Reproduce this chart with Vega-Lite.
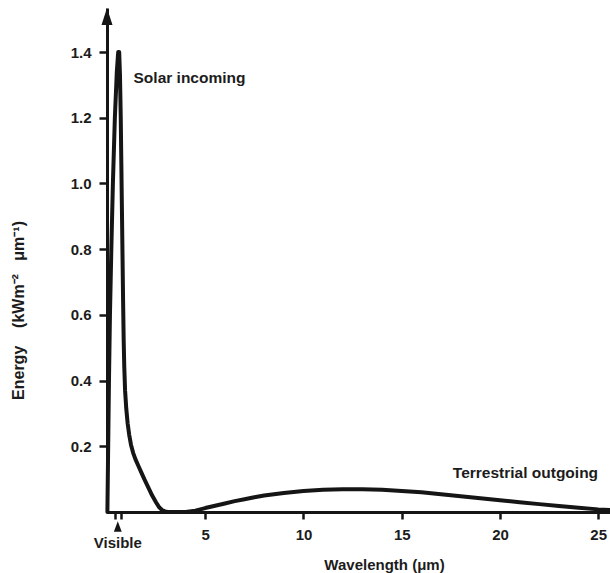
{
  "$schema": "https://vega.github.io/schema/vega-lite/v6.json",
  "autosize": {"type": "none"},
  "width": 503,
  "height": 504,
  "padding": {"left": 107, "top": 8, "right": 0, "bottom": 61},
  "background": "white",
  "config": {
    "view": {"stroke": null},
    "font": "Liberation Sans",
    "axis": {
      "domainColor": "#151515",
      "domainWidth": 3,
      "tickColor": "#151515",
      "tickWidth": 2.5,
      "tickSize": 7,
      "labelFont": "Liberation Sans",
      "labelFontSize": 15,
      "labelFontWeight": "bold",
      "labelColor": "#1c1c1c",
      "titleFont": "Liberation Sans",
      "titleFontSize": 15,
      "titleFontWeight": "bold",
      "titleColor": "#1c1c1c",
      "grid": false,
      "labelFlush": false,
      "labelOverlap": false
    }
  },
  "datasets": {
    "curve": [
      {"x": 0.02, "y": 0},
      {"x": 0.06, "y": 0.2},
      {"x": 0.1, "y": 0.4},
      {"x": 0.15, "y": 0.6},
      {"x": 0.22, "y": 0.8},
      {"x": 0.3, "y": 1.0},
      {"x": 0.4, "y": 1.2},
      {"x": 0.5, "y": 1.34},
      {"x": 0.57, "y": 1.4},
      {"x": 0.62, "y": 1.4},
      {"x": 0.66, "y": 1.33},
      {"x": 0.7, "y": 1.2},
      {"x": 0.73, "y": 1.06},
      {"x": 0.76, "y": 0.92},
      {"x": 0.79, "y": 0.78},
      {"x": 0.82, "y": 0.64},
      {"x": 0.85, "y": 0.52},
      {"x": 0.88, "y": 0.44},
      {"x": 0.92, "y": 0.37},
      {"x": 0.98, "y": 0.315},
      {"x": 1.05, "y": 0.27},
      {"x": 1.13, "y": 0.235},
      {"x": 1.22, "y": 0.205},
      {"x": 1.33, "y": 0.18},
      {"x": 1.45, "y": 0.16},
      {"x": 1.6, "y": 0.14},
      {"x": 1.75, "y": 0.12},
      {"x": 1.9, "y": 0.1},
      {"x": 2.1, "y": 0.075},
      {"x": 2.3, "y": 0.05},
      {"x": 2.5, "y": 0.029},
      {"x": 2.65, "y": 0.015},
      {"x": 2.8, "y": 0.006},
      {"x": 2.95, "y": 0.002},
      {"x": 3.1, "y": 0},
      {"x": 4.0, "y": 0},
      {"x": 4.5, "y": 0.004},
      {"x": 5, "y": 0.012},
      {"x": 5.5, "y": 0.019},
      {"x": 6, "y": 0.026},
      {"x": 6.5, "y": 0.033},
      {"x": 7, "y": 0.039},
      {"x": 7.5, "y": 0.045},
      {"x": 8, "y": 0.05},
      {"x": 9, "y": 0.058},
      {"x": 10, "y": 0.064},
      {"x": 11, "y": 0.068},
      {"x": 12, "y": 0.0695},
      {"x": 13, "y": 0.0695},
      {"x": 14, "y": 0.068},
      {"x": 15, "y": 0.064},
      {"x": 16, "y": 0.06},
      {"x": 17, "y": 0.054},
      {"x": 18, "y": 0.048},
      {"x": 19, "y": 0.042},
      {"x": 20, "y": 0.036},
      {"x": 21, "y": 0.03},
      {"x": 22, "y": 0.024},
      {"x": 23, "y": 0.018},
      {"x": 24, "y": 0.013},
      {"x": 25, "y": 0.008},
      {"x": 25.6, "y": 0.006}
    ],
    "axisArrow": [{"x": 0, "y": 1.508}],
    "visibleMarker": [{"x": 0.55, "y": -0.044}],
    "labels": [
      {"x": 1.35, "y": 1.321, "text": "Solar incoming"},
      {"x": 17.6, "y": 0.119, "text": "Terrestrial outgoing"}
    ],
    "visibleLabel": [{"x": 0.55, "y": -0.094, "text": "Visible"}]
  },
  "encoding": {
    "x": {
      "field": "x",
      "type": "quantitative",
      "scale": {"domain": [0, 25.6], "nice": false, "zero": false},
      "axis": {
        "values": [0.4, 0.7, 5, 10, 15, 20, 25],
        "labelExpr": "datum.value < 1 ? '' : format(datum.value, 'd')",
        "labelPadding": 8,
        "title": "Wavelength (μm)",
        "titleX": 277,
        "titleY": 52,
        "titleAlign": "center",
        "titleBaseline": "middle"
      }
    },
    "y": {
      "field": "y",
      "type": "quantitative",
      "scale": {"domain": [0, 1.534], "nice": false},
      "axis": {
        "values": [0.2, 0.4, 0.6, 0.8, 1.0, 1.2, 1.4],
        "format": ".1f",
        "tickSize": 8,
        "labelPadding": 8,
        "title": "Energy\u00a0\u00a0\u00a0\u00a0(kWm\u207b\u00b2\u00a0\u00a0\u00a0\u03bcm\u207b\u00b9)",
        "titleAngle": -90,
        "titleX": -89,
        "titleY": 302,
        "titleAlign": "center",
        "titleBaseline": "middle",
        "titleFontSize": 16
      }
    }
  },
  "layer": [
    {
      "data": {"name": "curve"},
      "mark": {
        "type": "line",
        "interpolate": "linear",
        "stroke": "#151515",
        "strokeWidth": 4,
        "strokeCap": "round",
        "strokeJoin": "round"
      }
    },
    {
      "data": {"name": "axisArrow"},
      "mark": {
        "type": "point",
        "shape": "M0,-1L0.65,1L-0.65,1Z",
        "size": 289,
        "filled": true,
        "fill": "#151515",
        "opacity": 1
      }
    },
    {
      "data": {"name": "visibleMarker"},
      "mark": {
        "type": "point",
        "shape": "M0,-1L0.75,1L-0.75,1Z",
        "size": 110,
        "filled": true,
        "fill": "#151515",
        "opacity": 1
      }
    },
    {
      "data": {"name": "labels"},
      "mark": {
        "type": "text",
        "align": "left",
        "baseline": "middle",
        "font": "Liberation Sans",
        "fontSize": 15.5,
        "fontWeight": "bold",
        "color": "#1c1c1c"
      },
      "encoding": {"text": {"field": "text"}}
    },
    {
      "data": {"name": "visibleLabel"},
      "mark": {
        "type": "text",
        "align": "center",
        "baseline": "middle",
        "font": "Liberation Sans",
        "fontSize": 15,
        "fontWeight": "bold",
        "color": "#1c1c1c"
      },
      "encoding": {"text": {"field": "text"}}
    }
  ]
}
